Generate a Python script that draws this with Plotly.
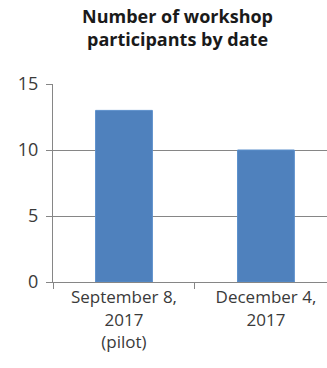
import plotly.graph_objects as go

categories = ["September 8,<br>2017<br>(pilot)", "December 4,<br>2017"]
participants = [13, 10]
y_ticks = [0, 5, 10, 15]
title_text = "<b>Number of workshop<br>participants by date</b>"

fig = go.Figure()
fig.add_trace(go.Bar(
    x=categories, y=participants,
    marker=dict(color="#4F81BD", line=dict(color="#5B8FCB", width=1)),
    width=0.4,
))
fig.update_layout(
    width=327, height=368,
    margin=dict(l=53, r=0, t=84, b=86),
    paper_bgcolor="white", plot_bgcolor="white",
    showlegend=False,
    font=dict(family="Open Sans", size=17, color="#3a3a3a"),
)
fig.add_annotation(
    text=title_text, xref="paper", yref="paper", x=0.455, y=1.0, yshift=82,
    xanchor="center", yanchor="top", showarrow=False,
    font=dict(family="Open Sans", size=18, color="#1a1a1a"),
)
fig.update_xaxes(
    type="category", range=[-0.5, 1.43],
    showline=True, linecolor="#868686", linewidth=1,
    ticks="outside", tickson="boundaries", ticklen=6, tickcolor="#868686",
    showgrid=False, tickfont=dict(size=17),
)
fig.update_yaxes(
    range=[0, 15], tickvals=y_ticks,
    showline=True, linecolor="#868686", linewidth=1,
    ticks="outside", ticklen=6, tickcolor="#868686",
    showgrid=True, gridcolor="#868686", gridwidth=1,
    zeroline=False, tickfont=dict(size=18), ticklabelstandoff=4,
)
fig.write_html("out.html")
